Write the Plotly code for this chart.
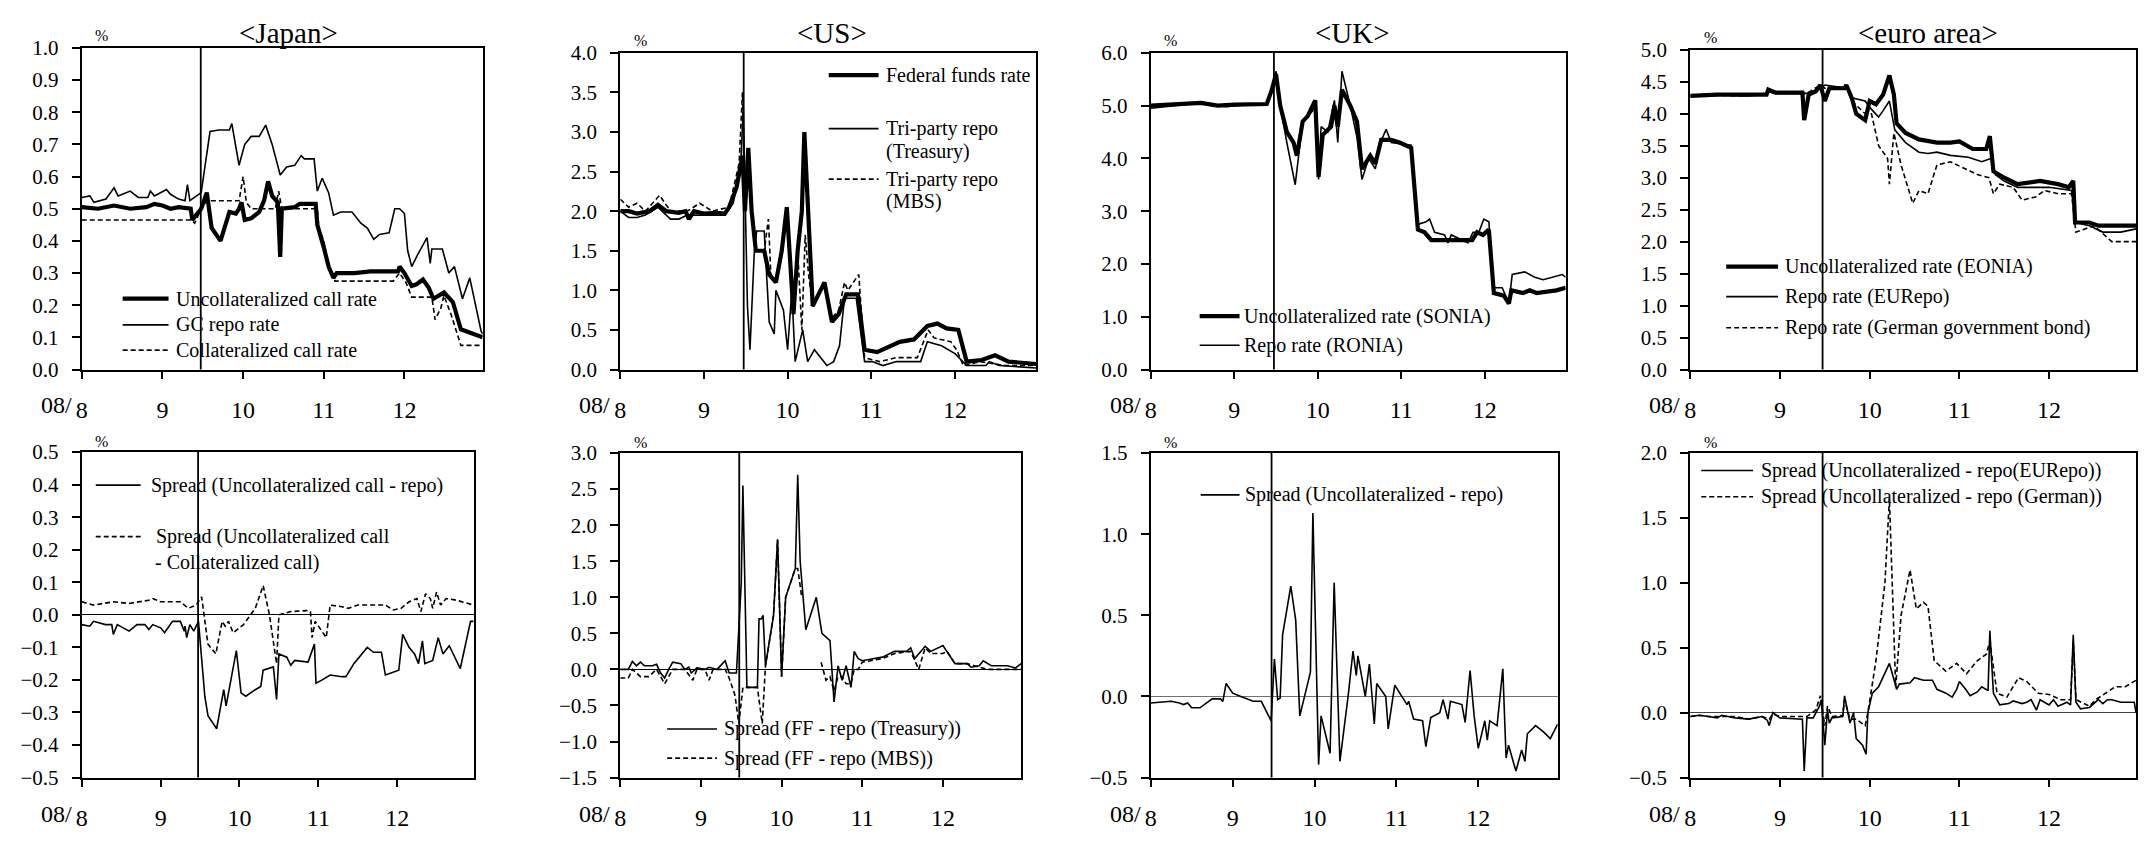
import plotly.graph_objects as go

W, H = 2153, 843
FONT = "Liberation Serif"

# ---------------- data (x = month of 2008 as decimal, y = %) ----------------
jp_uncoll = [(8.0,0.505),(8.2,0.50),(8.4,0.51),(8.6,0.50),(8.8,0.505),(8.9,0.515),(9.0,0.51),(9.1,0.50),(9.2,0.505),(9.35,0.50),
             (9.37,0.465),(9.48,0.50),(9.55,0.55),(9.61,0.44),(9.72,0.40),(9.83,0.49),(9.91,0.485),(9.95,0.50),(9.98,0.52),(10.02,0.465),
             (10.1,0.47),(10.2,0.49),(10.26,0.525),(10.31,0.585),(10.36,0.54),(10.43,0.52),(10.46,0.35),(10.48,0.50),(10.64,0.505),(10.70,0.515),
             (10.90,0.515),(10.92,0.45),(11.0,0.38),(11.06,0.32),(11.12,0.285),(11.16,0.30),(11.38,0.30),(11.58,0.305),(11.92,0.305),(11.94,0.32),
             (12.0,0.30),(12.09,0.26),(12.15,0.265),(12.23,0.28),(12.3,0.255),(12.36,0.22),(12.49,0.24),(12.6,0.21),(12.7,0.125),(12.81,0.115),(12.97,0.10)]
jp_gc_repo = [(8.0,0.535),(8.1,0.54),(8.15,0.52),(8.3,0.53),(8.4,0.565),(8.45,0.54),(8.6,0.555),(8.7,0.535),(8.82,0.535),(8.85,0.555),
              (8.9,0.54),(9.05,0.56),(9.1,0.545),(9.2,0.53),(9.28,0.525),(9.31,0.575),(9.34,0.525),(9.4,0.535),(9.48,0.55),(9.59,0.74),
              (9.70,0.745),(9.83,0.745),(9.86,0.765),(9.95,0.635),(10.02,0.70),(10.10,0.725),(10.2,0.725),(10.28,0.76),(10.36,0.70),(10.46,0.605),
              (10.54,0.63),(10.64,0.635),(10.72,0.665),(10.76,0.655),(10.88,0.655),(10.92,0.555),(10.98,0.595),(11.06,0.55),(11.12,0.48),(11.21,0.49),
              (11.35,0.49),(11.46,0.455),(11.54,0.44),(11.62,0.405),(11.69,0.42),(11.81,0.425),(11.88,0.50),(11.94,0.50),(12.0,0.485),(12.04,0.37),
              (12.09,0.32),(12.17,0.36),(12.28,0.41),(12.32,0.33),(12.34,0.375),(12.47,0.375),(12.55,0.30),(12.62,0.32),(12.72,0.22),(12.81,0.285),
              (12.95,0.12),(12.97,0.11)]
jp_coll = [(8.0,0.465),(9.36,0.465),(9.40,0.455),(9.48,0.50),(9.55,0.525),(9.95,0.525),(10.0,0.60),(10.04,0.52),(10.1,0.50),(10.4,0.50),
           (10.44,0.555),(10.48,0.50),(10.92,0.50),(10.94,0.44),(11.0,0.40),(11.06,0.32),(11.14,0.275),(11.86,0.275),(11.94,0.30),(12.02,0.27),
           (12.09,0.225),(12.34,0.225),(12.38,0.155),(12.45,0.19),(12.49,0.23),(12.58,0.17),(12.70,0.075),(12.97,0.075)]

us_ff = [(8.0,2.0),(8.1,2.0),(8.2,1.97),(8.35,2.0),(8.45,2.08),(8.55,2.0),(8.7,1.98),(8.78,2.0),(8.82,1.9),(8.88,2.0),
         (9.0,1.97),(9.15,1.98),(9.25,1.97),(9.3,2.05),(9.39,2.3),(9.46,2.7),(9.49,2.0),(9.53,2.8),(9.57,2.0),(9.62,1.5),
         (9.72,1.5),(9.78,1.2),(9.86,1.1),(9.93,1.5),(9.99,2.05),(10.07,0.7),(10.12,1.5),(10.17,2.0),(10.2,3.0),(10.24,2.0),
         (10.27,1.5),(10.30,0.8),(10.44,1.1),(10.53,0.6),(10.61,0.7),(10.70,0.95),(10.84,0.95),(10.92,0.25),(11.07,0.22),(11.22,0.3),
         (11.34,0.35),(11.51,0.38),(11.67,0.55),(11.79,0.58),(11.90,0.52),(12.04,0.5),(12.14,0.1),(12.32,0.12),(12.48,0.18),(12.64,0.1),
         (12.93,0.08),(12.97,0.07)]
us_repo_treasury = [(8.0,2.0),(8.1,1.92),(8.2,1.92),(8.3,1.95),(8.45,2.05),(8.55,1.95),(8.6,1.9),(8.7,1.9),(8.8,1.95),(9.0,1.95),
                    (9.25,1.95),(9.35,2.1),(9.44,2.6),(9.47,3.3),(9.52,0.8),(9.55,0.25),(9.6,1.45),(9.63,1.75),(9.72,1.75),(9.78,0.6),
                    (9.84,0.45),(9.86,1.0),(9.95,0.75),(10.0,0.25),(10.05,1.0),(10.09,0.1),(10.18,0.5),(10.24,0.1),(10.32,0.25),(10.47,0.05),
                    (10.55,0.1),(10.62,0.3),(10.68,0.9),(10.82,0.9),(10.92,0.1),(11.01,0.1),(11.14,0.05),(11.3,0.1),(11.59,0.1),(11.67,0.35),
                    (11.84,0.3),(12.0,0.2),(12.14,0.05),(12.37,0.05),(12.41,0.1),(12.53,0.05),(12.97,0.02)]
us_repo_mbs = [(8.0,2.15),(8.1,2.05),(8.2,2.1),(8.3,2.0),(8.47,2.2),(8.6,2.0),(8.8,2.0),(8.95,2.1),(9.1,2.0),(9.3,2.05),
               (9.42,2.6),(9.46,3.5),(9.5,2.0),(9.53,2.6),(9.57,2.0),(9.62,1.5),(9.72,1.5),(9.77,1.9),(9.80,1.2),(9.86,1.1),
               (9.93,1.5),(9.99,2.0),(10.07,0.7),(10.12,1.5),(10.17,0.5),(10.21,1.7),(10.25,1.2),(10.30,0.8),(10.44,1.1),(10.53,0.65),
               (10.61,0.75),(10.68,1.1),(10.72,1.0),(10.85,1.2),(10.92,0.15),(11.1,0.1),(11.3,0.15),(11.55,0.15),(11.68,0.5),(11.75,0.4),
               (11.95,0.35),(12.02,0.25),(12.1,0.05),(12.3,0.1),(12.6,0.05),(12.97,0.05)]

uk_sonia = [(8.0,5.0),(8.4,5.02),(8.6,5.05),(8.8,5.0),(9.0,5.02),(9.39,5.03),(9.45,5.3),(9.5,5.6),(9.55,5.0),(9.63,4.5),
            (9.71,4.3),(9.75,4.05),(9.82,4.7),(9.88,4.8),(9.97,5.1),(10.01,3.65),(10.06,4.45),(10.16,4.6),(10.2,5.0),(10.24,4.6),
            (10.29,5.3),(10.39,5.0),(10.47,4.7),(10.53,3.8),(10.63,4.05),(10.69,3.9),(10.76,4.35),(10.88,4.35),(10.98,4.3),(11.12,4.2),
            (11.2,2.65),(11.28,2.6),(11.36,2.45),(11.52,2.45),(11.85,2.45),(11.91,2.6),(11.98,2.55),(12.05,2.65),(12.11,1.45),(12.23,1.4),
            (12.29,1.25),(12.32,1.5),(12.46,1.45),(12.54,1.5),(12.62,1.45),(12.86,1.5),(12.97,1.55)]
uk_ronia = [(8.0,4.95),(8.3,5.0),(8.6,5.05),(8.9,4.98),(9.2,5.02),(9.39,5.02),(9.45,5.3),(9.5,5.65),(9.55,5.0),(9.63,4.3),
            (9.73,3.5),(9.82,4.7),(9.94,4.9),(9.98,5.1),(10.01,3.6),(10.04,4.6),(10.12,4.5),(10.2,5.1),(10.24,4.3),(10.29,5.65),
            (10.39,5.0),(10.47,4.4),(10.53,3.6),(10.61,4.0),(10.69,3.8),(10.75,4.3),(10.82,4.55),(10.88,4.3),(11.12,4.25),(11.2,2.75),
            (11.3,2.8),(11.34,2.85),(11.4,2.6),(11.52,2.55),(11.56,2.4),(11.6,2.55),(11.8,2.4),(11.86,2.6),(11.93,2.6),(11.99,2.85),
            (12.05,2.8),(12.11,1.55),(12.21,1.55),(12.29,1.25),(12.33,1.8),(12.48,1.85),(12.6,1.75),(12.7,1.7),(12.93,1.8),(12.97,1.75)]

eu_eonia = [(8.0,4.28),(8.3,4.3),(8.6,4.3),(8.85,4.3),(8.87,4.38),(8.95,4.33),(9.25,4.33),(9.27,3.9),(9.32,4.3),(9.4,4.35),
            (9.45,4.45),(9.5,4.2),(9.55,4.4),(9.72,4.4),(9.74,4.45),(9.8,4.25),(9.85,4.0),(9.95,3.9),(10.0,4.2),(10.07,4.15),
            (10.15,4.3),(10.22,4.6),(10.27,4.3),(10.3,3.85),(10.4,3.7),(10.55,3.6),(10.75,3.55),(10.9,3.55),(11.0,3.57),(11.15,3.45),
            (11.3,3.45),(11.34,3.65),(11.38,3.1),(11.5,3.0),(11.65,2.9),(11.9,2.95),(12.1,2.9),(12.22,2.85),(12.27,2.95),(12.29,2.3),
            (12.45,2.3),(12.55,2.25),(12.97,2.25)]
eu_eurepo = [(8.0,4.28),(8.3,4.3),(8.6,4.28),(8.85,4.3),(8.87,4.35),(8.95,4.32),(9.3,4.32),(9.45,4.4),(9.5,4.45),(9.75,4.4),
             (9.8,4.25),(9.95,4.2),(10.0,4.1),(10.1,3.95),(10.15,4.05),(10.22,4.2),(10.28,3.75),(10.4,3.55),(10.55,3.4),(10.65,3.38),
             (10.75,3.4),(10.9,3.35),(11.1,3.32),(11.25,3.25),(11.35,3.3),(11.4,3.05),(11.5,2.95),(11.65,2.85),(12.0,2.85),(12.25,2.8),
             (12.3,2.3),(12.45,2.25),(12.6,2.15),(12.8,2.15),(12.97,2.2)]
eu_german = [(8.0,4.28),(8.3,4.29),(8.6,4.28),(8.85,4.3),(8.87,4.35),(8.95,4.32),(9.3,4.32),(9.45,4.45),(9.5,4.4),(9.75,4.4),
             (9.8,4.2),(9.95,4.0),(10.02,4.0),(10.1,3.5),(10.2,3.3),(10.22,2.9),(10.27,3.7),(10.35,3.2),(10.48,2.6),(10.55,2.8),
             (10.65,2.75),(10.75,3.2),(10.9,3.25),(11.05,3.15),(11.2,3.05),(11.33,3.0),(11.38,2.75),(11.45,2.9),(11.6,2.85),(11.7,2.65),
             (11.85,2.7),(11.95,2.8),(12.1,2.75),(12.25,2.75),(12.3,2.15),(12.4,2.2),(12.5,2.25),(12.7,2.0),(12.97,2.0)]

jp_spread_repo = [(8.0,-0.03),(8.1,-0.035),(8.15,-0.02),(8.3,-0.03),(8.38,-0.03),(8.4,-0.06),(8.45,-0.03),(8.6,-0.05),(8.7,-0.03),(8.8,-0.03),
                  (8.85,-0.045),(8.9,-0.03),(9.0,-0.04),(9.05,-0.055),(9.15,-0.02),(9.25,-0.02),(9.3,-0.05),(9.31,-0.035),(9.33,-0.07),(9.37,-0.03),
                  (9.42,-0.05),(9.48,-0.02),(9.56,-0.25),(9.6,-0.31),(9.71,-0.35),(9.8,-0.23),(9.83,-0.28),(9.96,-0.11),(10.02,-0.24),(10.08,-0.25),
                  (10.2,-0.23),(10.27,-0.22),(10.3,-0.17),(10.43,-0.16),(10.47,-0.26),(10.5,-0.12),(10.6,-0.13),(10.65,-0.155),(10.7,-0.14),(10.87,-0.145),
                  (10.95,-0.09),(10.97,-0.21),(11.05,-0.2),(11.15,-0.185),(11.3,-0.19),(11.35,-0.19),(11.45,-0.15),(11.55,-0.12),(11.62,-0.10),(11.7,-0.115),
                  (11.8,-0.115),(11.85,-0.185),(11.95,-0.175),(12.02,-0.17),(12.07,-0.06),(12.15,-0.1),(12.22,-0.12),(12.27,-0.15),(12.32,-0.08),(12.35,-0.15),
                  (12.45,-0.14),(12.52,-0.07),(12.58,-0.12),(12.66,-0.095),(12.8,-0.165),(12.93,-0.02),(12.97,-0.02)]
jp_spread_coll = [(8.0,0.04),(8.15,0.03),(8.4,0.04),(8.6,0.035),(8.85,0.045),(8.9,0.05),(9.0,0.04),(9.25,0.04),(9.35,0.02),(9.45,0.03),
                  (9.52,0.055),(9.6,-0.09),(9.7,-0.12),(9.78,-0.02),(9.82,-0.035),(9.86,-0.02),(9.92,-0.055),(10.05,-0.03),(10.2,0.02),(10.3,0.09),
                  (10.38,0.0),(10.47,-0.15),(10.5,0.0),(10.65,0.01),(10.85,0.013),(10.9,0.01),(10.92,-0.07),(10.96,-0.02),(11.1,-0.07),(11.15,0.03),
                  (11.3,0.025),(11.38,0.02),(11.5,0.03),(11.85,0.03),(11.95,0.015),(12.05,0.02),(12.15,0.04),(12.25,0.05),(12.3,0.01),(12.36,0.065),
                  (12.42,0.05),(12.45,0.02),(12.5,0.07),(12.55,0.03),(12.62,0.05),(12.75,0.045),(12.97,0.03)]

us_spread_treasury = [(8.0,0.0),(8.1,0.0),(8.15,0.11),(8.2,0.05),(8.25,0.1),(8.3,0.05),(8.4,0.05),(8.45,0.07),(8.5,-0.05),(8.55,-0.12),
                      (8.6,0.0),(8.65,0.1),(8.75,0.08),(8.8,0.0),(8.85,0.03),(8.88,-0.05),(8.95,0.02),(9.05,0.0),(9.1,0.03),(9.2,0.0),
                      (9.3,0.12),(9.35,-0.05),(9.44,-0.05),(9.5,1.2),(9.52,2.55),(9.57,-0.25),(9.70,-0.25),(9.72,0.7),(9.75,0.7),(9.77,0.75),
                      (9.8,0.05),(9.9,0.75),(9.95,1.8),(10.0,-0.1),(10.05,1.0),(10.17,1.4),(10.2,2.7),(10.23,1.5),(10.3,0.55),(10.43,1.0),
                      (10.5,0.5),(10.6,0.4),(10.65,-0.45),(10.7,0.05),(10.75,-0.15),(10.8,0.05),(10.86,-0.25),(10.9,0.25),(10.95,0.15),(11.0,0.12),
                      (11.15,0.15),(11.25,0.17),(11.4,0.25),(11.55,0.25),(11.6,0.3),(11.65,0.15),(11.78,0.32),(11.85,0.25),(12.0,0.33),(12.05,0.25),
                      (12.15,0.08),(12.3,0.08),(12.35,0.03),(12.45,0.05),(12.5,0.12),(12.6,0.05),(12.8,0.05),(12.9,0.02),(12.97,0.08)]
us_spread_mbs = [(8.0,-0.12),(8.1,-0.12),(8.15,0.0),(8.25,-0.1),(8.35,-0.1),(8.45,0.0),(8.55,-0.2),(8.65,0.0),(8.8,0.0),(8.9,-0.15),
                 (8.95,0.0),(9.05,0.0),(9.1,-0.15),(9.15,0.0),(9.3,0.0),(9.35,-0.12),(9.42,-0.35),(9.47,-0.75),(9.52,-0.25),(9.57,-0.25),
                 (9.70,-0.25),(9.76,-0.75),(9.8,0.05),(9.9,0.75),(9.95,1.8),(10.0,-0.1),(10.05,1.0),(10.17,1.4),(10.2,1.4),(10.25,1.0),
                 (10.26,None),(10.49,0.1),(10.55,-0.15),(10.6,-0.1),(10.65,-0.3),(10.7,-0.1),(10.75,-0.1),(10.8,-0.2),(10.86,-0.2),(10.9,0.0),
                 (10.95,0.0),(11.0,0.1),(11.15,0.13),(11.25,0.15),(11.4,0.22),(11.55,0.25),(11.6,0.25),(11.7,0.0),(11.78,0.3),(11.85,0.22),
                 (12.0,0.22),(12.05,0.25),(12.15,0.08),(12.3,0.08),(12.45,0.03),(12.55,0.0),(12.97,0.0)]

uk_spread = [(8.0,-0.04),(8.1,-0.035),(8.25,-0.03),(8.35,-0.04),(8.4,-0.05),(8.45,-0.04),(8.5,-0.07),(8.6,-0.07),(8.7,-0.03),(8.75,-0.015),
             (8.85,-0.015),(8.88,-0.03),(8.92,0.08),(9.0,0.02),(9.1,0.0),(9.15,-0.01),(9.25,-0.03),(9.35,-0.03),(9.47,-0.15),(9.51,0.23),
             (9.55,-0.02),(9.58,-0.01),(9.61,0.38),(9.71,0.68),(9.77,0.47),(9.82,-0.12),(9.95,0.15),(9.98,1.13),(10.05,-0.42),(10.08,-0.12),
             (10.19,-0.35),(10.24,0.7),(10.31,-0.4),(10.41,0.0),(10.47,0.28),(10.51,0.13),(10.53,0.25),(10.62,0.0),(10.67,0.2),(10.73,-0.17),
             (10.76,0.08),(10.87,0.0),(10.9,-0.2),(10.98,0.07),(11.07,0.0),(11.13,-0.05),(11.15,-0.03),(11.21,-0.14),(11.32,-0.15),(11.36,-0.31),
             (11.42,-0.13),(11.53,-0.1),(11.57,-0.02),(11.63,-0.14),(11.66,-0.03),(11.8,-0.05),(11.84,-0.16),(11.9,0.16),(11.95,-0.12),(12.0,-0.32),
             (12.08,-0.15),(12.11,-0.27),(12.14,-0.15),(12.23,-0.18),(12.3,0.17),(12.34,-0.38),(12.37,-0.3),(12.46,-0.46),(12.53,-0.33),(12.57,-0.4),
             (12.6,-0.23),(12.7,-0.18),(12.8,-0.22),(12.88,-0.26),(12.97,-0.17)]

eu_spread_eurepo = [(8.0,-0.03),(8.1,-0.02),(8.2,-0.03),(8.3,-0.04),(8.35,-0.02),(8.5,-0.04),(8.65,-0.05),(8.8,-0.03),(8.86,-0.06),(8.88,-0.1),
                    (8.92,0.0),(9.0,-0.04),(9.25,-0.05),(9.27,-0.45),(9.3,-0.04),(9.37,-0.04),(9.44,0.05),(9.46,0.1),(9.5,-0.25),(9.53,0.02),
                    (9.55,-0.08),(9.58,-0.04),(9.7,-0.03),(9.72,0.13),(9.78,-0.08),(9.82,0.0),(9.85,-0.2),(9.92,-0.25),(9.96,-0.32),(9.98,0.0),
                    (10.03,0.15),(10.1,0.2),(10.22,0.38),(10.3,0.18),(10.33,0.22),(10.45,0.23),(10.5,0.27),(10.6,0.25),(10.7,0.25),(10.75,0.18),
                    (10.85,0.15),(10.92,0.12),(10.97,0.18),(11.0,0.24),(11.07,0.18),(11.12,0.13),(11.2,0.16),(11.25,0.2),(11.32,0.17),(11.34,0.63),
                    (11.38,0.15),(11.45,0.06),(11.55,0.07),(11.6,0.09),(11.7,0.07),(11.75,0.08),(11.8,0.1),(11.86,0.02),(11.9,0.1),(12.0,0.06),
                    (12.05,0.1),(12.1,0.05),(12.2,0.08),(12.24,0.06),(12.27,0.6),(12.3,0.08),(12.35,0.03),(12.45,0.04),(12.55,0.1),(12.6,0.07),
                    (12.65,0.1),(12.7,0.1),(12.8,0.08),(12.95,0.08),(12.97,0.0)]
eu_spread_german = [(8.0,-0.03),(8.1,-0.02),(8.2,-0.03),(8.3,-0.03),(8.5,-0.03),(8.65,-0.05),(8.8,-0.03),(8.88,-0.05),(8.92,-0.01),(9.0,-0.03),
                    (9.2,-0.03),(9.3,-0.03),(9.4,0.02),(9.45,0.13),(9.5,-0.1),(9.53,0.05),(9.58,-0.03),(9.7,-0.02),(9.72,0.1),(9.78,-0.05),
                    (9.85,-0.05),(9.95,-0.1),(9.98,0.0),(10.07,0.4),(10.17,1.0),(10.22,1.65),(10.29,0.2),(10.35,0.75),(10.45,1.1),(10.52,0.8),
                    (10.6,0.85),(10.65,0.82),(10.72,0.4),(10.85,0.32),(10.97,0.38),(11.08,0.3),(11.2,0.4),(11.3,0.45),(11.34,0.55),(11.42,0.15),
                    (11.53,0.12),(11.66,0.27),(11.75,0.24),(11.88,0.15),(12.0,0.14),(12.13,0.1),(12.24,0.1),(12.27,0.55),(12.3,0.1),(12.45,0.05),
                    (12.52,0.1),(12.74,0.2),(12.85,0.2),(12.97,0.25)]

month_ticks = [8, 9, 10, 11, 12]
month_labels = ["8", "9", "10", "11", "12"]
lehman_x = 9.475
titles = ["&lt;Japan&gt;", "&lt;US&gt;", "&lt;UK&gt;", "&lt;euro area&gt;"]

# ---------------- layout geometry (pixels) ----------------
# (left, right, top, bottom) of each plot area
boxes = [(76, 478, 37, 368), (616, 1033, 42, 368), (1148, 1564, 42, 368), (1689, 2136, 39, 368),
         (76, 469, 453, 788), (616, 1018, 454, 788), (1148, 1556, 454, 788), (1689, 2136, 454, 788)]
yranges = [(0, 1.0, 0.1), (0, 4.0, 0.5), (0, 6.0, 1.0), (0, 5.0, 0.5),
           (-0.5, 0.5, 0.1), (-1.5, 3.0, 0.5), (-0.5, 1.5, 0.5), (-0.5, 2.0, 0.5)]
zerocolors = [None, None, None, None, "black", "black", "#707070", "#404040"]

THICK, THIN, DASH = 4.2, 1.6, "5px,3px"

series = [  # (data, panel, width, dash)
    (jp_gc_repo, 1, THIN, "solid"), (jp_coll, 1, THIN, DASH), (jp_uncoll, 1, THICK, "solid"),
    (us_repo_treasury, 2, THIN, "solid"), (us_repo_mbs, 2, THIN, DASH), (us_ff, 2, THICK, "solid"),
    (uk_ronia, 3, THIN, "solid"), (uk_sonia, 3, THICK, "solid"),
    (eu_german, 4, THIN, DASH), (eu_eurepo, 4, THIN, "solid"), (eu_eonia, 4, THICK, "solid"),
    (jp_spread_coll, 5, THIN, DASH), (jp_spread_repo, 5, THIN, "solid"),
    (us_spread_mbs, 6, THIN, DASH), (us_spread_treasury, 6, THIN, "solid"),
    (uk_spread, 7, THIN, "solid"),
    (eu_spread_german, 8, THIN, DASH), (eu_spread_eurepo, 8, THIN, "solid"),
]

def px_x(p):
    return p / W

def px_y(p):
    return 1 - p / H

fig = go.Figure()
for data, k, w, d in series:
    sfx = "" if k == 1 else str(k)
    fig.add_trace(go.Scatter(x=[p[0] for p in data], y=[p[1] for p in data], mode="lines",
                             line=dict(color="black", width=w, dash=d),
                             xaxis="x" + sfx, yaxis="y" + sfx, showlegend=False, hoverinfo="skip"))

layout = dict(width=W, height=H, margin=dict(l=0, r=0, t=0, b=0), paper_bgcolor="white",
              plot_bgcolor="white", showlegend=False)
shapes, annotations = [], []


def note(text, x, y, size, xanchor="center"):
    annotations.append(dict(text=text, x=px_x(x), y=px_y(y), xref="paper", yref="paper",
                            xanchor=xanchor, yanchor="middle", showarrow=False,
                            font=dict(family=FONT, size=size, color="black")))


for i, (l, r, t, b) in enumerate(boxes):
    k = i + 1
    sfx = "" if k == 1 else str(k)
    y0, y1, dt = yranges[i]
    layout["xaxis" + sfx] = dict(domain=[px_x(l), px_x(r)], range=[8, 12.97], anchor="y" + sfx,
                                 tickmode="array", tickvals=month_ticks, ticktext=month_labels,
                                 ticks="outside", ticklen=7, tickwidth=1.5, tickcolor="black",
                                 showline=True, linecolor="black", linewidth=2, mirror=True,
                                 showgrid=False, zeroline=False, ticklabelstandoff=11,
                                 tickfont=dict(family=FONT, size=24, color="black"))
    zc = zerocolors[i]
    layout["yaxis" + sfx] = dict(domain=[px_y(b), px_y(t)], range=[y0, y1], anchor="x" + sfx,
                                 tick0=y0, dtick=dt, tickformat=".1f",
                                 ticks="outside", ticklen=8, tickwidth=1.5, tickcolor="black",
                                 showline=True, linecolor="black", linewidth=2, mirror=True,
                                 showgrid=False, zeroline=zc is not None,
                                 zerolinecolor=zc or "black", zerolinewidth=1.2,
                                 ticklabelstandoff=9,
                                 tickfont=dict(family=FONT, size=21, color="black"))
    shapes.append(dict(type="line", xref="x" + sfx, yref=f"y{sfx} domain", x0=lehman_x, x1=lehman_x,
                       y0=0, y1=1, line=dict(color="black", width=1.8)))
    note("%", l + 20, t - 13 if k <= 4 else t - 11, 16)
    note("08/", l - 8, b + 37, 24, xanchor="right")

for txt, cx in zip(titles, [283, 828, 1350, 1927]):
    note(txt, cx, 22, 29)

# legend entries: (x0, x1, y, width, dash, text, text_x)
legend_items = [
    (117, 163, 295, THICK, "solid", "Uncollateralized call rate", 168),
    (117, 163, 322, THIN, "solid", "GC repo rate", 168),
    (117, 163, 348, THIN, DASH, "Collateralized call rate", 168),
    (825, 875, 65, THICK, "solid", "Federal funds rate", 880),
    (825, 875, 120, THIN, "solid", "Tri-party repo", 880),
    (None, None, 144, None, None, "(Treasury)", 880),
    (825, 875, 172, THIN, DASH, "Tri-party repo", 880),
    (None, None, 195, None, None, "(MBS)", 880),
    (1197, 1237, 313, THICK, "solid", "Uncollateralized rate (SONIA)", 1239),
    (1197, 1237, 343, THIN, "solid", "Repo rate (RONIA)", 1239),
    (1725, 1777, 262, THICK, "solid", "Uncollateralized rate (EONIA)", 1782),
    (1725, 1777, 293, THIN, "solid", "Repo rate (EURepo)", 1782),
    (1725, 1777, 325, THIN, DASH, "Repo rate (German government bond)", 1782),
    (90, 135, 487, THIN, "solid", "Spread (Uncollateralized call - repo)", 143),
    (90, 135, 540, THIN, DASH, "Spread (Uncollateralized call", 148),
    (None, None, 567, None, None, "- Collateralized call)", 147),
    (663, 713, 738, THIN, "solid", "Spread (FF - repo (Treasury))", 718),
    (663, 713, 768, THIN, DASH, "Spread (FF - repo (MBS))", 718),
    (1198, 1237, 497, THIN, "solid", "Spread (Uncollateralized - repo)", 1240),
    (1700, 1752, 472, THIN, "solid", "Spread (Uncollateralized - repo(EURepo))", 1758),
    (1700, 1752, 499, THIN, DASH, "Spread (Uncollateralized - repo (German))", 1758),
]
for x0, x1, y, w, d, txt, tx in legend_items:
    if x0 is not None:
        shapes.append(dict(type="line", xref="paper", yref="paper", x0=px_x(x0), x1=px_x(x1),
                           y0=px_y(y), y1=px_y(y), line=dict(color="black", width=w, dash=d)))
    note(txt, tx, y, 20, xanchor="left")

layout["shapes"] = shapes
layout["annotations"] = annotations
fig.update_layout(**layout)

fig.write_html("out.html", config={"displayModeBar": False},
               post_script="document.body.style.margin='0';document.body.style.overflow='hidden';")
